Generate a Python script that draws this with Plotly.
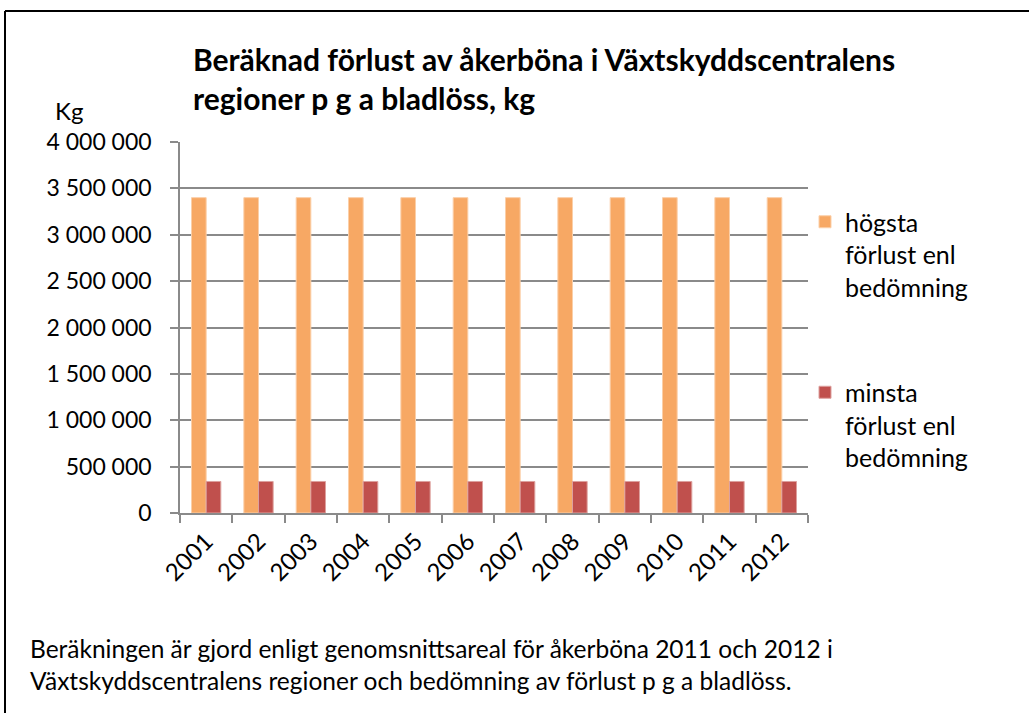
import plotly.graph_objects as go

years = ["2001", "2002", "2003", "2004", "2005", "2006", "2007", "2008", "2009", "2010", "2011", "2012"]
hogsta = [3400000, 3400000, 3400000, 3400000, 3400000, 3400000, 3400000, 3400000, 3400000, 3400000, 3400000, 3400000]
minsta = [340000, 340000, 340000, 340000, 340000, 340000, 340000, 340000, 340000, 340000, 340000, 340000]
y_ticks = [0, 500000, 1000000, 1500000, 2000000, 2500000, 3000000, 3500000, 4000000]
y_ticklabels = ["0", "500 000", "1 000 000", "1 500 000", "2 000 000", "2 500 000", "3 000 000", "3 500 000", "4 000 000"]

FONT = "Lato"
W, H = 1029, 713
L, R, T, B = 180, 221, 142, 200
pw, ph = W - L - R, H - T - B

def px(x):
    return (x - L) / pw

def py(y):
    return (H - B - y) / ph

fig = go.Figure()
fig.add_trace(go.Bar(
    x=years, y=hogsta, name="högsta<br>förlust enl<br>bedömning",
    marker=dict(color="#F7A864", line=dict(color="#FBCFA8", width=1)),
    legendgroup="a",
))
fig.add_trace(go.Bar(
    x=years, y=minsta, name="minsta<br>förlust enl<br>bedömning",
    marker=dict(color="#C0504D", line=dict(color="#DDA09E", width=1)),
    legendgroup="b",
))

grid = "#8a8a8a"
fig.update_layout(
    width=W, height=H,
    margin=dict(l=L, r=R, t=T, b=B, autoexpand=False),
    paper_bgcolor="white", plot_bgcolor="white",
    font=dict(family=FONT, size=23, color="black"),
    barmode="group", bargap=0.44, bargroupgap=0,
    showlegend=True,
    legend=dict(
        x=px(805), y=py(199), xanchor="left", yanchor="top",
        valign="top", tracegroupgap=70,
        font=dict(family=FONT, size=25, color="black"),
        bgcolor="rgba(0,0,0,0)", borderwidth=0,
    ),
    xaxis=dict(
        type="category", tickangle=-45, tickson="boundaries",
        ticks="outside", ticklen=8, tickcolor=grid, tickwidth=1.5,
        showline=True, linecolor=grid, linewidth=1.5,
        showgrid=False, tickfont=dict(family=FONT, size=24),
        ticklabelstandoff=3,
    ),
    yaxis=dict(
        range=[0, 4000000], tickvals=y_ticks, ticktext=y_ticklabels,
        ticks="outside", ticklen=8, tickcolor=grid, tickwidth=1.5,
        showline=True, linecolor=grid, linewidth=1.5,
        showgrid=True, gridcolor=grid, gridwidth=1.5,
        zeroline=False, ticklabelstandoff=14,
        tickfont=dict(family=FONT, size=23),
    ),
)

fig.add_annotation(
    text="<b>Beräknad förlust av åkerböna i Växtskyddscentralens<br>regioner p g a bladlöss, kg</b>",
    xref="paper", yref="paper", x=px(191), y=py(39), xanchor="left", yanchor="top",
    align="left", showarrow=False, font=dict(family=FONT, size=30, color="black"),
)
fig.add_annotation(
    text="Kg", xref="paper", yref="paper", x=px(53), y=py(110), xanchor="left", yanchor="middle",
    showarrow=False, font=dict(family=FONT, size=24, color="black"),
)
fig.add_annotation(
    text="Beräkningen är gjord enligt genomsnittsareal för åkerböna 2011 och 2012 i<br>Växtskyddscentralens regioner och bedömning av förlust p g a bladlöss.",
    xref="paper", yref="paper", x=px(28), y=py(632), xanchor="left", yanchor="top",
    align="left", showarrow=False, font=dict(family=FONT, size=24.5, color="black"),
)

# outer frame (top and left edges visible)
fig.add_shape(type="line", xref="paper", yref="paper", x0=px(5), x1=px(1040), y0=py(11), y1=py(11),
              line=dict(color="black", width=2))
fig.add_shape(type="line", xref="paper", yref="paper", x0=px(5), x1=px(5), y0=py(11), y1=py(730),
              line=dict(color="black", width=2))

fig.write_html("out.html", config={"displayModeBar": False},
               post_script="document.body.style.margin='0';document.body.style.overflow='hidden';")
